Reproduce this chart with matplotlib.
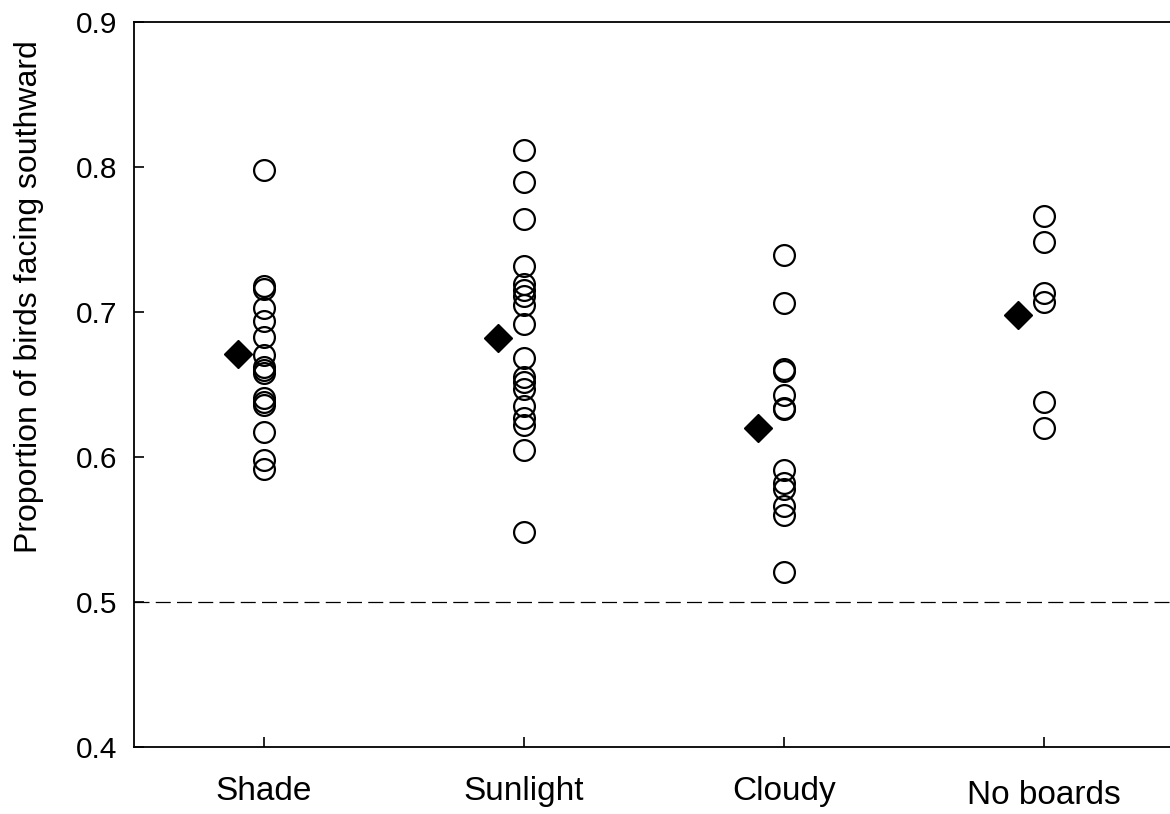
import numpy as np
import matplotlib
matplotlib.use("Agg")
import matplotlib.pyplot as plt

plt.rcParams.update({
    "font.family": ["Liberation Sans", "DejaVu Sans"],
    "font.size": 21,
})

categories = ["Shade", "Sunlight", "Cloudy", "No boards"]

shade = [0.798, 0.718, 0.716, 0.703, 0.694, 0.683, 0.670, 0.662, 0.660,
         0.658, 0.641, 0.638, 0.636, 0.617, 0.598, 0.592]
sunlight = [0.812, 0.790, 0.764, 0.732, 0.719, 0.715, 0.711, 0.705, 0.692,
            0.668, 0.655, 0.652, 0.647, 0.635, 0.627, 0.622, 0.605, 0.548]
cloudy = [0.739, 0.706, 0.661, 0.659, 0.643, 0.634, 0.633, 0.591, 0.582,
          0.578, 0.566, 0.560, 0.521]
no_boards = [0.766, 0.748, 0.713, 0.707, 0.638, 0.620]

group_values = [shade, sunlight, cloudy, no_boards]
group_means = [0.671, 0.682, 0.620, 0.698]

chance_level = 0.5

fig = plt.figure(figsize=(11.7, 8.14), dpi=100)
ax = fig.add_axes([134 / 1170, 1 - 747 / 814, 1040 / 1170, 725 / 814])

positions = np.arange(1, len(categories) + 1)

# individual sessions as open circles
for pos, vals in zip(positions, group_values):
    ax.plot(np.full(len(vals), pos), vals, linestyle="none", marker="o",
            markersize=15, markerfacecolor="none", markeredgecolor="black",
            markeredgewidth=1.6, zorder=3)

# group means, nudged left of the circles
ax.plot(positions - 0.1, group_means, linestyle="none", marker="D",
        markersize=14, color="black", zorder=4)

ax.axhline(chance_level, color="black", linewidth=0.9,
           dashes=(12, 5), zorder=1)

ax.set_xlim(0.5, 4.5)
ax.set_ylim(0.4, 0.9)
ax.set_xticks(positions)
ax.set_xticklabels(categories, fontsize=24)
yticks = np.arange(0.4, 0.91, 0.1)
ax.set_yticks(yticks)
ax.set_yticklabels([f"{v:.1f}" for v in yticks], fontsize=21.5)

ax.spines["right"].set_visible(False)
for side in ["left", "bottom", "top"]:
    ax.spines[side].set_linewidth(1.3)

ax.tick_params(axis="both", direction="in", length=7, width=1.2)
ax.tick_params(axis="x", pad=21)
ax.tick_params(axis="y", pad=12)
ax.xaxis.get_major_ticks()[3].set_pad(24)

fig.text(29 / 1170, 1 - 297 / 814, "Proportion of birds facing southward",
         rotation=90, ha="center", va="center", fontsize=23)

fig.savefig("out.png", dpi=100)
